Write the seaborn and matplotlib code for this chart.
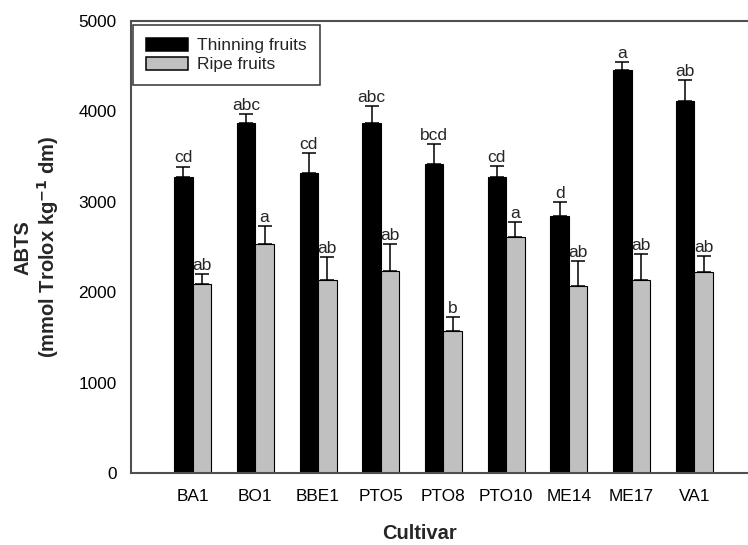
import pandas as pd
import numpy as np
import seaborn as sns
import matplotlib.pyplot as plt
from matplotlib.patches import Patch

cultivars = ["BA1", "BO1", "BBE1", "PTO5", "PTO8", "PTO10", "ME14", "ME17", "VA1"]
stages = ["Thinning fruits", "Ripe fruits"]

thinning = [3280, 3870, 3320, 3870, 3420, 3280, 2845, 4460, 4120]
thinning_err = [110, 105, 220, 185, 220, 120, 150, 90, 230]
thinning_letters = ["cd", "abc", "cd", "abc", "bcd", "cd", "d", "a", "ab"]

ripe = [2090, 2540, 2140, 2235, 1575, 2615, 2070, 2140, 2230]
ripe_err = [110, 190, 250, 300, 155, 160, 275, 285, 175]
ripe_letters = ["ab", "a", "ab", "ab", "b", "a", "ab", "ab", "ab"]

df = pd.DataFrame({
    "Cultivar": cultivars * 2,
    "ABTS": thinning + ripe,
    "stage": [stages[0]] * len(cultivars) + [stages[1]] * len(cultivars),
})

sns.set_style("white")
plt.rcParams["font.family"] = ["Liberation Sans", "DejaVu Sans"]

spine_col = "#505050"
colors = {stages[0]: "black", stages[1]: "#c0c0c0"}

fig = plt.figure(figsize=(7.48, 5.45), dpi=100)
ax = fig.add_axes([0.1751, 0.1316, 0.8249, 0.8299])

sns.barplot(data=df, x="Cultivar", y="ABTS", hue="stage", hue_order=stages,
            palette=colors, width=0.59, errorbar=None, edgecolor="black",
            linewidth=0.8, legend=False, ax=ax)

# one-sided error bars + significance letters on top
for cont, errs, letters in zip(ax.containers, [thinning_err, ripe_err],
                               [thinning_letters, ripe_letters]):
    for bar, e, lab in zip(cont.patches, errs, letters):
        xc = bar.get_x() + bar.get_width() / 2
        h = bar.get_height()
        ax.errorbar(xc, h, yerr=[[0], [e]], fmt="none", ecolor="black",
                    elinewidth=1.1, capsize=4.8, capthick=1.1)
        ax.annotate(lab, (xc, h + e), xytext=(0, 3), textcoords="offset points",
                    ha="center", va="baseline", fontsize=12.5)

ax.set_xlim(-0.984, 8.857)
ax.set_ylim(0, 5000)
ax.set_yticks(np.arange(0, 5001, 1000))

for s in ["top", "left", "bottom"]:
    ax.spines[s].set_color(spine_col)
    ax.spines[s].set_linewidth(1.5)
ax.spines["right"].set_visible(False)

ax.tick_params(axis="both", direction="out", colors=spine_col, width=1.1,
               labelsize=12.4, labelcolor="black")
ax.tick_params(axis="y", length=5.5, pad=5)
ax.tick_params(axis="x", length=4.5, pad=7)

ax.set_xlabel("Cultivar", fontsize=14.5, fontweight="bold")
ax.set_ylabel("ABTS\n(mmol Trolox kg$^{\\mathbf{-1}}$ dm)", fontsize=14.5,
              fontweight="bold", linespacing=1.15)
ax.xaxis.set_label_coords(0.4676, -0.112)
ax.yaxis.set_label_coords(-0.113, 0.5)

handles = [Patch(facecolor=colors[s], edgecolor="black", linewidth=1.1) for s in stages]
leg = ax.legend(handles, stages, loc="upper left", bbox_to_anchor=(0.004, 0.991),
                borderaxespad=0, fontsize=12.5, frameon=True, fancybox=False,
                handlelength=2.42, handleheight=0.75, handletextpad=0.5,
                labelspacing=0.2, borderpad=0.75)
leg.get_frame().set_edgecolor("black")
leg.get_frame().set_linewidth(1.1)

fig.savefig("out.png", dpi=100)
